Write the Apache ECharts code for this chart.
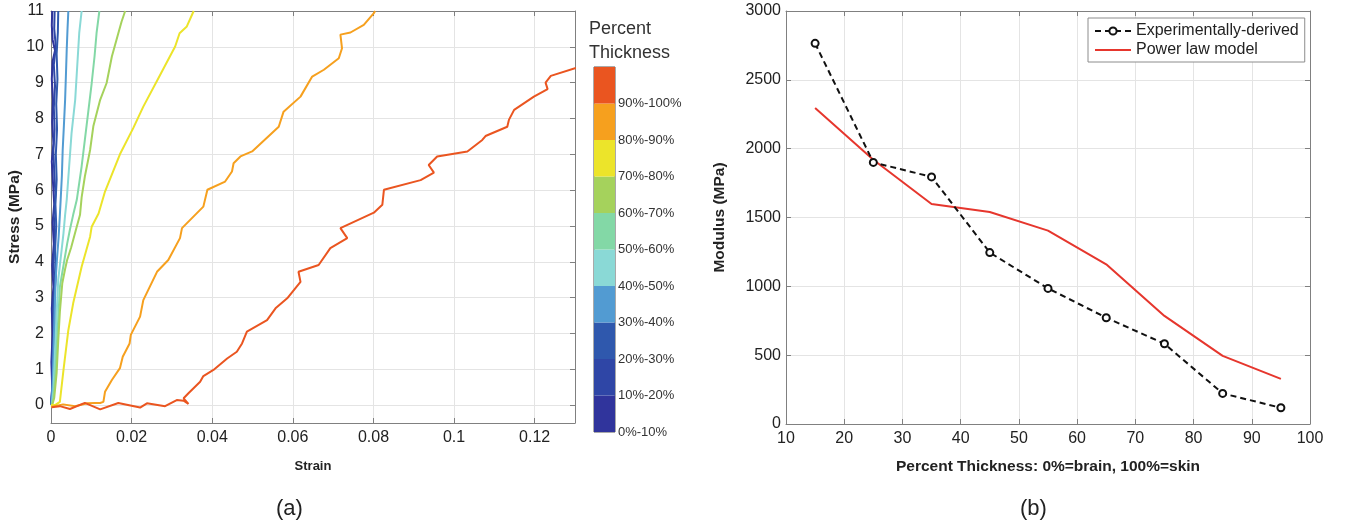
<!DOCTYPE html>
<html>
<head>
<meta charset="utf-8">
<script src="https://cdn.jsdelivr.net/npm/echarts@6/dist/echarts.min.js"></script>
<style>
  html, body { margin: 0; padding: 0; background: #fff; }
  #chart { width: 1346px; height: 530px; }
</style>
</head>
<body>
<div id="chart"></div>
<script>
// ---- Panel (a): stress-strain curves, one per thickness band ([strain, stress]) ----
const band0to10 = [[0,0],[0.0003,0.5],[0.0001,1.2],[0.0004,2.0],[0.0002,2.7],[0.0006,3.3],[0.0003,3.9],[0.0007,4.5],[0.0004,5.1],[0.0008,5.6],[0.0005,6.2],[0.0002,6.8],[0.0006,7.3],[0.0003,7.9],[0.0005,8.5],[0.0002,9.1],[0.0004,9.6],[0.0010,9.9],[0.0004,10.2],[0.0002,10.6],[0.0003,11]];
const band10to20 = [[0,0],[0.0004,0.6],[0.0003,1.3],[0.0007,2.0],[0.0005,2.8],[0.0009,3.4],[0.0006,4.0],[0.0010,4.7],[0.0007,5.3],[0.0011,5.9],[0.0008,6.5],[0.0006,7.1],[0.0009,7.7],[0.0007,8.3],[0.0010,8.9],[0.0007,9.5],[0.0012,10.0],[0.0008,10.5],[0.0009,11]];
const band20to30 = [[0.0001,0],[0.0005,0.7],[0.0006,1.5],[0.0009,2.3],[0.0008,3.0],[0.0012,3.6],[0.0010,4.3],[0.0013,5.0],[0.0011,5.6],[0.0014,6.3],[0.0012,7.0],[0.0015,7.7],[0.0013,8.4],[0.0016,9.1],[0.0014,9.8],[0.0017,10.4],[0.0018,11]];
const band30to40 = [[0.0001,0],[0.0004,0.6],[0.0006,1.4],[0.0008,2.2],[0.0010,3.0],[0.0012,3.6],[0.0015,4.1],[0.0019,4.7],[0.0022,5.31],[0.0024,5.73],[0.0027,6.4],[0.0029,7.12],[0.0032,7.8],[0.0035,8.52],[0.0037,9.2],[0.0039,9.92],[0.0041,10.5],[0.0043,11]];
const band40to50 = [[0.0002,0],[0.0006,0.4],[0.0009,1.2],[0.0012,2.0],[0.0015,2.8],[0.0018,3.5],[0.0022,3.9],[0.0026,4.3],[0.0031,4.8],[0.0035,5.31],[0.0039,5.73],[0.0045,6.66],[0.0051,7.59],[0.0060,8.52],[0.0065,9.45],[0.0070,10.38],[0.0076,11]];
const band50to60 = [[0.0002,0],[0.0006,0.2],[0.0011,0.9],[0.0015,1.8],[0.0019,2.6],[0.0022,3.3],[0.0028,3.7],[0.0034,4.1],[0.0040,4.5],[0.0047,4.9],[0.0055,5.31],[0.0064,5.73],[0.0076,6.66],[0.0084,7.40],[0.0093,8.24],[0.0101,8.99],[0.0108,9.73],[0.0113,10.38],[0.0120,11]];
const band60to70 = [[0.0003,0],[0.0008,0.2],[0.0014,0.9],[0.0018,1.8],[0.0022,2.6],[0.0028,3.4],[0.0035,3.8],[0.0040,4.05],[0.0050,4.4],[0.0062,4.9],[0.0072,5.31],[0.0076,5.8],[0.0084,6.38],[0.0097,7.12],[0.0105,7.78],[0.0122,8.52],[0.0138,8.99],[0.0151,9.73],[0.0167,10.38],[0.0175,10.7],[0.0184,11]];
const band70to80 = [[0,0],[0.0010,0.0],[0.0022,0.09],[0.0031,0.98],[0.0043,2.09],[0.0055,2.84],[0.0076,3.86],[0.0097,4.70],[0.0101,4.98],[0.0118,5.35],[0.0134,5.96],[0.0171,7.0],[0.0204,7.73],[0.0229,8.33],[0.0271,9.22],[0.0308,10.01],[0.0319,10.38],[0.0337,10.57],[0.0354,11]];
const band80to90 = [[0,-0.05],[0.0030,0.02],[0.0060,-0.03],[0.0090,0.05],[0.0109,0.06],[0.0122,0.06],[0.0130,0.09],[0.0134,0.37],[0.0151,0.70],[0.0171,1.03],[0.0178,1.35],[0.0195,1.72],[0.0198,1.96],[0.0221,2.47],[0.0229,2.93],[0.0263,3.72],[0.0291,4.05],[0.0320,4.66],[0.0325,4.94],[0.0378,5.54],[0.0388,6.01],[0.0432,6.24],[0.0449,6.52],[0.0453,6.75],[0.0470,6.94],[0.0499,7.08],[0.0565,7.77],[0.0577,8.19],[0.0619,8.61],[0.0648,9.17],[0.0677,9.36],[0.0714,9.68],[0.0722,9.96],[0.0718,10.34],[0.0743,10.40],[0.0776,10.61],[0.0801,10.94],[0.0804,11]];
const band90to100 = [[0.0002,-0.06],[0.0022,-0.03],[0.0047,-0.11],[0.0084,0.06],[0.0122,-0.12],[0.0167,0.06],[0.0221,-0.07],[0.0238,0.05],[0.0283,-0.03],[0.0312,0.14],[0.0329,0.12],[0.0341,0.03],[0.0329,0.19],[0.0341,0.33],[0.0370,0.65],[0.0378,0.81],[0.0403,0.98],[0.0437,1.30],[0.0461,1.49],[0.0474,1.72],[0.0486,2.05],[0.0536,2.37],[0.0557,2.70],[0.0586,2.98],[0.0619,3.44],[0.0614,3.72],[0.0664,3.91],[0.0693,4.38],[0.0735,4.66],[0.0718,4.94],[0.0801,5.37],[0.0822,5.59],[0.0826,6.01],[0.0917,6.28],[0.0950,6.49],[0.0937,6.70],[0.0958,6.94],[0.1033,7.08],[0.1070,7.40],[0.1078,7.51],[0.1132,7.77],[0.1136,7.96],[0.1149,8.24],[0.1198,8.61],[0.1232,8.82],[0.1227,9.00],[0.1240,9.19],[0.1302,9.41]];

const bandLabels = ['0%-10%','10%-20%','20%-30%','30%-40%','40%-50%','50%-60%','60%-70%','70%-80%','80%-90%','90%-100%'];
const bandEdges = [0,10,20,30,40,50,60,70,80,90,100];
const bandColors = ['#30349c','#2f46a6','#2f58ad','#529bd2','#8ad9d6','#83d8a6','#a5d25c','#ece42a','#f6a01e','#ea5520'];
const bandCurves = [band0to10, band10to20, band20to30, band30to40, band40to50, band50to60, band60to70, band70to80, band80to90, band90to100];

const strainTicks = [0, 0.02, 0.04, 0.06, 0.08, 0.1, 0.12];
const stressTicks = [0,1,2,3,4,5,6,7,8,9,10,11];

// ---- Panel (b): modulus against percent thickness ----
const thickness = [15, 25, 35, 45, 55, 65, 75, 85, 95];
const modulusExperimental = [2765, 1900, 1795, 1245, 985, 772, 583, 222, 118];
const modulusPowerLaw = [2295, 1920, 1598, 1540, 1405, 1160, 785, 495, 328];

const chart = echarts.init(document.getElementById('chart'));

const FONT = 'Liberation Sans, Arial, sans-serif';
const axisGray = '#808080';
const gridGray = '#e4e4e4';
const labelColor = '#222';

function frameAxis(gridIndex, pos, extra) {
  return Object.assign({
    gridIndex: gridIndex,
    position: pos,
    type: 'value',
    axisLine: { show: true, onZero: false, lineStyle: { color: axisGray, width: 1 } },
    axisTick: { show: true, inside: true, length: 5, lineStyle: { color: axisGray } },
    axisLabel: { show: false },
    splitLine: { show: false }
  }, extra);
}

const mainLabel = { show: true, color: labelColor, fontSize: 16, fontFamily: FONT, formatter: v => String(v) };
const nameStyle = (size) => ({ color: labelColor, fontSize: size, fontFamily: FONT, fontWeight: 'bold' });

const series = [];
bandCurves.forEach((curve, i) => {
  series.push({
    name: bandLabels[i],
    type: 'line',
    xAxisIndex: 0,
    yAxisIndex: 0,
    data: curve,
    symbol: 'none',
    lineStyle: { color: bandColors[i], width: 2 },
    clip: true,
    silent: true
  });
});

bandLabels.forEach((lab, i) => {
  series.push({
    name: 'cb' + i,
    type: 'bar',
    xAxisIndex: 4,
    yAxisIndex: 4,
    stack: 'colorbar',
    barWidth: '100%',
    data: [bandEdges[i + 1] - bandEdges[i]],
    itemStyle: { color: bandColors[i] },
    silent: true
  });
});

series.push({
  name: 'Experimentally-derived',
  type: 'line',
  xAxisIndex: 2,
  yAxisIndex: 2,
  data: thickness.map((t, i) => [t, modulusExperimental[i]]),
  symbol: 'emptyCircle',
  symbolSize: 7,
  lineStyle: { color: '#111', width: 2, type: [6, 4] },
  itemStyle: { color: '#111', borderColor: '#111', borderWidth: 2 },
  z: 3
});
series.push({
  name: 'Power law model',
  type: 'line',
  xAxisIndex: 2,
  yAxisIndex: 2,
  data: thickness.map((t, i) => [t, modulusPowerLaw[i]]),
  symbol: 'none',
  lineStyle: { color: '#e6362d', width: 2 },
  itemStyle: { color: '#e6362d' },
  z: 2
});

const option = {
  animation: false,
  backgroundColor: '#fff',
  textStyle: { fontFamily: FONT },
  title: {
    text: 'Percent\nThickness',
    left: 584,
    top: 12,
    textStyle: { fontSize: 18, fontWeight: 'normal', color: '#333', lineHeight: 24, fontFamily: FONT }
  },
  legend: {
    data: [
      { name: 'Experimentally-derived' },
      { name: 'Power law model', itemStyle: { opacity: 0 } }
    ],
    orient: 'vertical',
    left: 1088,
    top: 18,
    padding: [5, 6, 4, 6],
    itemGap: 3,
    itemWidth: 36,
    itemHeight: 9,
    borderColor: '#8c8c8c',
    borderWidth: 1,
    backgroundColor: '#fff',
    textStyle: { fontSize: 16, color: '#222', fontFamily: FONT }
  },
  grid: [
    { left: 51, top: 11, width: 524, height: 412 },
    { left: 786, top: 11, width: 524, height: 413 },
    { left: 594, top: 67, width: 21, height: 365, show: true, borderColor: '#555', borderWidth: 1, backgroundColor: 'transparent' }
  ],
  xAxis: [
    frameAxis(0, 'bottom', {
      min: 0, max: 0.13,
      name: 'Strain', nameLocation: 'middle', nameGap: 37, nameTextStyle: nameStyle(13),
      axisLabel: Object.assign({}, mainLabel, { customValues: strainTicks, margin: 7 }),
      axisTick: { show: true, inside: true, length: 5, lineStyle: { color: axisGray }, customValues: strainTicks },
      splitLine: { show: true, lineStyle: { color: gridGray, width: 1 } }
    }),
    frameAxis(0, 'top', {
      min: 0, max: 0.13,
      axisTick: { show: true, inside: true, length: 5, lineStyle: { color: axisGray }, customValues: strainTicks }
    }),
    frameAxis(1, 'bottom', {
      min: 10, max: 100, interval: 10,
      name: 'Percent Thickness: 0%=brain, 100%=skin', nameLocation: 'middle', nameGap: 35, nameTextStyle: nameStyle(15.5),
      axisLabel: Object.assign({}, mainLabel, { margin: 7 }),
      splitLine: { show: true, lineStyle: { color: gridGray, width: 1 } }
    }),
    frameAxis(1, 'top', { min: 10, max: 100, interval: 10 }),
    {
      gridIndex: 2, type: 'category', data: [''],
      axisLine: { show: false }, axisTick: { show: false }, axisLabel: { show: false }, splitLine: { show: false }
    }
  ],
  yAxis: [
    frameAxis(0, 'left', {
      min: -0.5, max: 11,
      name: 'Stress (MPa)', nameLocation: 'middle', nameGap: 28, nameRotate: 90, nameTextStyle: nameStyle(15.5),
      axisLabel: Object.assign({}, mainLabel, { customValues: stressTicks, margin: 7 }),
      axisTick: { show: true, inside: true, length: 5, lineStyle: { color: axisGray }, customValues: stressTicks },
      splitLine: { show: true, lineStyle: { color: gridGray, width: 1 } }
    }),
    frameAxis(0, 'right', {
      min: -0.5, max: 11,
      axisTick: { show: true, inside: true, length: 5, lineStyle: { color: axisGray }, customValues: stressTicks }
    }),
    frameAxis(1, 'left', {
      min: 0, max: 3000, interval: 500,
      name: 'Modulus (MPa)', nameLocation: 'middle', nameGap: 58, nameRotate: 90, nameTextStyle: nameStyle(15.5),
      axisLabel: Object.assign({}, mainLabel, { margin: 5 }),
      splitLine: { show: true, lineStyle: { color: gridGray, width: 1 } }
    }),
    frameAxis(1, 'right', { min: 0, max: 3000, interval: 500 }),
    {
      gridIndex: 2, type: 'value', position: 'right', min: 0, max: 100, interval: 10,
      axisLine: { show: false }, axisTick: { show: false }, splitLine: { show: false },
      axisLabel: {
        show: true, margin: 3, fontSize: 13, color: '#333', fontFamily: FONT,
        formatter: v => bandLabels[Math.round(v / 10)] || ''
      }
    }
  ],
  graphic: [
    { type: 'text', left: 276, top: 498, style: { text: '(a)', fill: '#222', font: '22px ' + FONT } },
    { type: 'text', left: 1020, top: 498, style: { text: '(b)', fill: '#222', font: '22px ' + FONT } }
  ],
  series: series
};

chart.setOption(option);
</script>
</body>
</html>
